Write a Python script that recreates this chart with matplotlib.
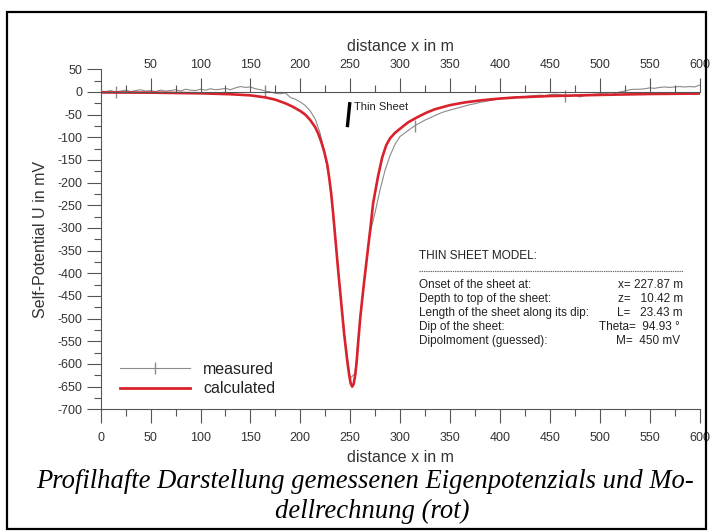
import numpy as np
import matplotlib
matplotlib.use("Agg")
import matplotlib.pyplot as plt
from matplotlib.ticker import FixedLocator
from matplotlib.lines import Line2D
from matplotlib.patches import Rectangle

# ---------------- data ----------------
x_measured = np.arange(0, 601, 5)
u_measured = [
    2, 1, 3, 0, 2, 4, 1, 3, 5, 2,            # 0-45
    3, 1, 4, 2, 3, 5, 2, 6, 4, 3,            # 50-95
    6, 4, 7, 5, 6, 8, 5, 9, 12, 10,          # 100-145
    11, 7, 5, 2, 0, -3, -4, -2, -12, -16,    # 150-195
    -22, -30, -42, -60, -92, -140, -205, -320, -445, -550,  # 200-245
    -632, -620, -495, -395, -310, -265, -215, -172, -140, -115,  # 250-295
    -98, -90, -82, -74, -68, -62, -57, -52, -47, -43,  # 300-345
    -40, -37, -34, -31, -28, -26, -23, -21, -19, -17,  # 350-395
    -15, -13, -12, -11, -10, -10, -9, -8, -7, -8,      # 400-445
    -6, -5, -6, -8, -10, -7, -11, -8, -6, -5,          # 450-495
    -4, -2, -6, -4, 0, 2, 5, 6, 6, 7,                  # 500-545
    9, 8, 10, 11, 10, 11, 12, 11, 12, 11,              # 550-595
    15,                                                # 600
]

x_calc = [0, 50, 100, 130, 150, 165, 175, 185, 192, 200, 205, 210, 215, 218,
          221, 224, 227, 229, 231, 233, 235, 238, 241, 244, 247, 249, 250.5,
          252, 253.5, 255, 256.5, 258, 260, 262, 264, 266, 268, 270, 273, 278,
          282, 286, 290, 295, 300, 308, 317, 326, 335, 350, 365, 383, 400, 417,
          450, 500, 550, 600]
u_calc = [-1, -1.5, -3, -5, -7.5, -12, -17, -25, -32, -42, -50, -62, -78, -92,
          -110, -132, -160, -190, -225, -270, -320, -395, -465, -535, -592,
          -625, -643, -650, -644, -625, -595, -552, -500, -458, -418, -380,
          -342, -305, -245, -185, -145, -118, -102, -90, -81, -67, -56, -46,
          -38, -29, -23, -18, -14.5, -12, -9, -6.5, -4.5, -3.5]

x_ticks_bottom = list(range(0, 601, 50))
x_ticks_top = list(range(50, 601, 50))
y_ticks = list(range(-700, 51, 50))

model_title = "THIN SHEET MODEL:"
model_labels = ["Onset of the sheet at:", "Depth to top of the sheet:",
                "Length of the sheet along its dip:", "Dip of the sheet:",
                "Dipolmoment (guessed):"]
model_values = ["x= 227.87 m", "z=   10.42 m", "L=   23.43 m",
                "Theta=  94.93 \u00b0 ", "M=  450 mV "]

legend_labels = ["measured", "calculated"]
caption_lines = ["Profilhafte Darstellung gemessenen Eigenpotenzials und Mo-",
                 "dellrechnung (rot)"]

# ---------------- figure ----------------
W, H = 713, 531
plt.rcParams['font.family'] = ['Liberation Sans', 'DejaVu Sans']
plt.rcParams['axes.unicode_minus'] = False
fig = plt.figure(figsize=(W / 100, H / 100), dpi=100)
ax = fig.add_axes([100.7 / W, (H - 409.3) / H, 598.8 / W, 340 / H])
ax.set_xlim(0, 600)
ax.set_ylim(-700, 50)

tick_col = '#555555'
lab_col = '#333333'

for s in ('top', 'right'):
    ax.spines[s].set_visible(False)
for s in ('left', 'bottom'):
    ax.spines[s].set_color(tick_col)
    ax.spines[s].set_linewidth(0.8)

ax.xaxis.set_major_locator(FixedLocator(x_ticks_bottom))
ax.xaxis.set_minor_locator(FixedLocator(list(range(25, 600, 50))))
ax.yaxis.set_major_locator(FixedLocator(y_ticks))
ax.yaxis.set_minor_locator(FixedLocator(list(range(-675, 50, 50))))
ax.tick_params(axis='both', which='major', direction='out', length=10,
               width=0.8, color=tick_col, labelsize=9, labelcolor=lab_col)
ax.tick_params(axis='both', which='minor', direction='out', length=5,
               width=0.8, color=tick_col)
ax.tick_params(axis='x', which='major', pad=6.5)
ax.tick_params(axis='y', which='major', pad=3)

ax.set_xlabel("distance x in m", fontsize=11.5, color=lab_col, labelpad=4)
ax.set_ylabel("Self-Potential U in mV", fontsize=11.5, color=lab_col, labelpad=7)

# top axis at y = 0
ax2 = ax.twiny()
ax2.set_xlim(0, 600)
for s in ('bottom', 'left', 'right'):
    ax2.spines[s].set_visible(False)
ax2.spines['top'].set_position(('data', 0))
ax2.spines['top'].set_color(tick_col)
ax2.spines['top'].set_linewidth(0.8)
ax2.xaxis.set_major_locator(FixedLocator(x_ticks_top))
ax2.xaxis.set_minor_locator(FixedLocator(list(range(25, 600, 50))))
ax2.tick_params(axis='x', which='major', direction='out', length=10, width=0.8,
                color=tick_col, labelsize=9, labelcolor=lab_col, pad=5)
ax2.tick_params(axis='x', which='minor', direction='out', length=5, width=0.8,
                color=tick_col)
ax2.set_xlabel("distance x in m", fontsize=11.5, color=lab_col, labelpad=6)
ax2.xaxis.set_label_position('top')

# data
meas_col = '#8a8a8a'
calc_col = '#d8222c'
ax.plot(x_measured, u_measured, color=meas_col, lw=0.8, marker='|',
        markersize=8, markevery=slice(3, None, 30), zorder=3)
ax.plot(x_calc, u_calc, color=calc_col, lw=1.9, zorder=4,
        solid_joinstyle='round')

# thin sheet marker
ax.plot([249.5, 247.3], [-26, -74], color='black', lw=2.4, zorder=5)
ax.text(253.5, -33, "Thin Sheet", fontsize=8, color='#222222', va='center', ha='left')

# model text block
txt_kw = dict(fontsize=8.5, color='#222222', va='center')
ax.text(319, -362, model_title, ha='left', **txt_kw)
ax.plot([319, 583], [-395, -395], color='#666666', lw=0.8,
        ls=(0, (1.2, 0.8)), zorder=3)
row_y = [-426, -457, -487, -518, -549]
for lab, val, yy in zip(model_labels, model_values, row_y):
    ax.text(319, yy, lab, ha='left', **txt_kw)
    ax.text(583.5, yy, val, ha='right', **txt_kw)

# legend
handles = [Line2D([], [], color=meas_col, lw=0.8, marker='|', markersize=9),
           Line2D([], [], color=calc_col, lw=2)]
fig.legend(handles, legend_labels, loc='center left',
           bbox_to_anchor=(120 / W, (H - 379) / H), frameon=False,
           fontsize=11.5, handlelength=4.4, handletextpad=0.8,
           labelspacing=0.28, borderpad=0, borderaxespad=0,
           labelcolor='#222222')

# caption
fig.text(365.5 / W, (H - 482) / H, caption_lines[0], fontsize=19.2,
         family=['Liberation Serif'], style='italic', ha='center', va='center')
fig.text(372 / W, (H - 511) / H, caption_lines[1], fontsize=19.2,
         family=['Liberation Serif'], style='italic', ha='center', va='center')

# outer frame
fig.patches.append(Rectangle((7 / W, 2 / H), 699 / W, (H - 14) / H,
                             transform=fig.transFigure, fill=False,
                             edgecolor='black', lw=1.6))

fig.savefig("out.png", dpi=100)
